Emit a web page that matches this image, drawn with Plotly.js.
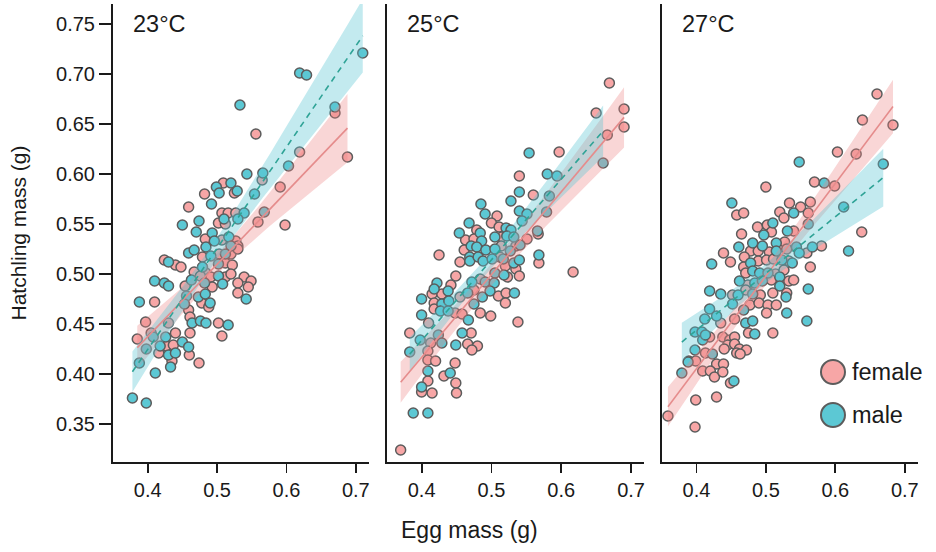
<!DOCTYPE html>
<html>
<head>
<meta charset="utf-8">
<script src="https://cdn.plot.ly/plotly-3.0.1.min.js"></script>
<style>html,body{margin:0;padding:0;background:#fff}</style>
</head>
<body>
<div id="chart" style="width:936px;height:552px"></div>
<script>
// ---------- data (egg mass g, hatchling mass g) ----------
const panelLabels = ['23°C', '25°C', '27°C'];
const sexLabels = ['female', 'male'];
const xTickVals = [0.4, 0.5, 0.6, 0.7];
const yTickVals = [0.35, 0.40, 0.45, 0.50, 0.55, 0.60, 0.65, 0.70, 0.75];
const xAxisTitle = 'Egg mass (g)';
const yAxisTitle = 'Hatchling mass (g)';

const female23 = [
 [0.556,0.640],[0.619,0.622],[0.688,0.617],[0.670,0.661],[0.591,0.587],[0.565,0.594],[0.598,0.549],[0.509,0.591],[0.525,0.581],[0.482,0.580],
 [0.459,0.567],[0.507,0.561],[0.516,0.561],[0.527,0.561],[0.502,0.551],[0.512,0.550],[0.559,0.552],[0.483,0.535],[0.507,0.534],[0.527,0.533],
 [0.530,0.528],[0.479,0.517],[0.503,0.520],[0.520,0.520],[0.530,0.525],[0.424,0.514],[0.440,0.509],[0.448,0.507],[0.467,0.502],[0.484,0.501],
 [0.512,0.511],[0.522,0.509],[0.512,0.497],[0.520,0.500],[0.491,0.497],[0.539,0.497],[0.549,0.493],[0.530,0.491],[0.545,0.487],[0.530,0.481],
 [0.454,0.488],[0.476,0.498],[0.493,0.487],[0.478,0.471],[0.488,0.467],[0.459,0.464],[0.461,0.457],[0.502,0.451],[0.507,0.438],[0.410,0.472],
 [0.397,0.452],[0.430,0.451],[0.405,0.441],[0.385,0.435],[0.440,0.441],[0.461,0.441],[0.460,0.419],[0.474,0.411],[0.427,0.428],[0.437,0.429],
 [0.416,0.421],[0.435,0.413]
];
const male23 = [
 [0.710,0.721],[0.619,0.701],[0.629,0.699],[0.533,0.669],[0.670,0.667],[0.603,0.608],[0.566,0.601],[0.543,0.600],[0.568,0.562],[0.554,0.580],
 [0.499,0.587],[0.520,0.591],[0.503,0.581],[0.529,0.583],[0.492,0.570],[0.474,0.553],[0.450,0.549],[0.470,0.542],[0.539,0.561],[0.510,0.555],
 [0.530,0.555],[0.493,0.541],[0.484,0.527],[0.496,0.533],[0.517,0.537],[0.520,0.528],[0.459,0.521],[0.467,0.524],[0.491,0.518],[0.512,0.520],
 [0.430,0.512],[0.479,0.507],[0.502,0.510],[0.502,0.498],[0.542,0.475],[0.410,0.493],[0.424,0.491],[0.430,0.488],[0.463,0.494],[0.482,0.491],
 [0.508,0.490],[0.473,0.477],[0.483,0.480],[0.490,0.471],[0.456,0.478],[0.453,0.470],[0.464,0.451],[0.476,0.453],[0.484,0.451],[0.516,0.449],
 [0.388,0.472],[0.408,0.437],[0.450,0.432],[0.459,0.427],[0.426,0.437],[0.418,0.428],[0.430,0.419],[0.440,0.421],[0.433,0.407],[0.398,0.425],
 [0.388,0.411],[0.411,0.401],[0.378,0.376],[0.398,0.371]
];
const female25 = [
 [0.669,0.691],[0.690,0.665],[0.690,0.647],[0.650,0.661],[0.666,0.639],[0.597,0.622],[0.540,0.598],[0.560,0.579],[0.508,0.558],[0.500,0.551],
 [0.511,0.547],[0.479,0.544],[0.463,0.534],[0.475,0.535],[0.515,0.537],[0.551,0.535],[0.567,0.540],[0.461,0.524],[0.514,0.528],[0.535,0.528],
 [0.425,0.519],[0.455,0.512],[0.512,0.517],[0.520,0.508],[0.535,0.505],[0.540,0.498],[0.568,0.511],[0.523,0.497],[0.484,0.495],[0.449,0.498],
 [0.442,0.489],[0.415,0.480],[0.429,0.480],[0.455,0.477],[0.475,0.484],[0.510,0.478],[0.521,0.481],[0.520,0.471],[0.418,0.471],[0.418,0.465],
 [0.448,0.461],[0.458,0.460],[0.484,0.461],[0.499,0.458],[0.410,0.451],[0.538,0.452],[0.383,0.441],[0.413,0.431],[0.471,0.441],[0.466,0.430],
 [0.480,0.428],[0.472,0.424],[0.409,0.423],[0.409,0.414],[0.420,0.413],[0.448,0.411],[0.432,0.398],[0.449,0.391],[0.409,0.393],[0.400,0.382],
 [0.415,0.381],[0.450,0.381],[0.617,0.502],[0.370,0.324]
];
const male25 = [
 [0.660,0.611],[0.554,0.621],[0.580,0.600],[0.594,0.598],[0.540,0.582],[0.528,0.573],[0.583,0.578],[0.485,0.570],[0.491,0.560],[0.540,0.563],
 [0.551,0.560],[0.579,0.562],[0.468,0.551],[0.521,0.546],[0.528,0.544],[0.544,0.553],[0.454,0.541],[0.484,0.541],[0.566,0.543],[0.486,0.533],
 [0.505,0.537],[0.522,0.538],[0.532,0.537],[0.541,0.529],[0.471,0.528],[0.479,0.527],[0.492,0.524],[0.505,0.525],[0.527,0.523],[0.469,0.517],
 [0.469,0.513],[0.481,0.517],[0.488,0.513],[0.501,0.515],[0.517,0.515],[0.532,0.511],[0.540,0.514],[0.568,0.519],[0.505,0.501],[0.518,0.499],
 [0.491,0.492],[0.504,0.491],[0.472,0.492],[0.422,0.491],[0.418,0.485],[0.438,0.483],[0.466,0.481],[0.487,0.477],[0.498,0.483],[0.533,0.481],
 [0.400,0.475],[0.429,0.470],[0.439,0.473],[0.427,0.463],[0.438,0.463],[0.475,0.470],[0.467,0.454],[0.400,0.459],[0.398,0.434],[0.424,0.439],
 [0.429,0.431],[0.458,0.441],[0.449,0.429],[0.383,0.422],[0.409,0.403],[0.441,0.401],[0.400,0.387],[0.388,0.361],[0.409,0.361]
];
const female27 = [
 [0.660,0.680],[0.639,0.654],[0.683,0.649],[0.603,0.622],[0.630,0.620],[0.500,0.587],[0.570,0.592],[0.599,0.588],[0.458,0.559],[0.468,0.561],
 [0.534,0.571],[0.520,0.562],[0.526,0.556],[0.550,0.567],[0.564,0.572],[0.561,0.561],[0.488,0.547],[0.502,0.549],[0.508,0.542],[0.465,0.540],
 [0.638,0.542],[0.540,0.543],[0.580,0.528],[0.559,0.521],[0.527,0.532],[0.478,0.523],[0.489,0.523],[0.505,0.522],[0.530,0.525],[0.439,0.521],
 [0.449,0.512],[0.469,0.517],[0.468,0.507],[0.489,0.513],[0.501,0.514],[0.511,0.515],[0.533,0.513],[0.564,0.507],[0.471,0.501],[0.514,0.500],
 [0.526,0.504],[0.533,0.493],[0.540,0.494],[0.474,0.489],[0.508,0.494],[0.530,0.481],[0.452,0.479],[0.471,0.484],[0.492,0.479],[0.510,0.481],
 [0.477,0.469],[0.490,0.471],[0.503,0.469],[0.515,0.469],[0.501,0.461],[0.435,0.451],[0.455,0.455],[0.475,0.441],[0.510,0.441],[0.419,0.437],
 [0.413,0.421],[0.438,0.437],[0.448,0.434],[0.455,0.437],[0.445,0.429],[0.455,0.430],[0.440,0.425],[0.462,0.425],[0.472,0.424],[0.458,0.421],
 [0.463,0.420],[0.429,0.410],[0.439,0.410],[0.409,0.403],[0.420,0.403],[0.426,0.397],[0.438,0.402],[0.389,0.413],[0.399,0.413],[0.449,0.391],
 [0.399,0.374],[0.429,0.377],[0.359,0.358],[0.398,0.347]
];
const male27 = [
 [0.669,0.610],[0.548,0.612],[0.584,0.591],[0.612,0.567],[0.451,0.571],[0.540,0.561],[0.561,0.550],[0.510,0.551],[0.497,0.539],[0.531,0.543],
 [0.567,0.527],[0.619,0.523],[0.481,0.531],[0.495,0.528],[0.515,0.531],[0.461,0.527],[0.515,0.523],[0.544,0.527],[0.548,0.521],[0.422,0.510],
 [0.478,0.511],[0.523,0.514],[0.538,0.511],[0.481,0.503],[0.491,0.501],[0.503,0.501],[0.520,0.497],[0.462,0.493],[0.484,0.491],[0.495,0.493],
 [0.520,0.488],[0.561,0.485],[0.419,0.483],[0.435,0.480],[0.460,0.479],[0.481,0.480],[0.529,0.477],[0.530,0.461],[0.468,0.464],[0.452,0.470],
 [0.419,0.465],[0.559,0.453],[0.412,0.455],[0.429,0.458],[0.471,0.451],[0.481,0.453],[0.484,0.440],[0.398,0.442],[0.408,0.442],[0.409,0.434],
 [0.398,0.424],[0.423,0.420],[0.379,0.401],[0.454,0.393],[0.388,0.412],[0.413,0.439]
];

const panels = [
  {label: panelLabels[0], female: female23, male: male23},
  {label: panelLabels[1], female: female25, male: male25},
  {label: panelLabels[2], female: female27, male: male27}
];

// ---------- styles ----------
const FONT = 'Liberation Sans, Arial, Helvetica, sans-serif';
const INK = '#1a1a1a';
const sexStyle = {
  female: {fill: '#F7A6A6', band: 'rgba(238,130,130,0.33)', line: '#E58C8C', dash: 'solid'},
  male:   {fill: '#5CC8D4', band: 'rgba(88,196,212,0.36)', line: '#2FA396', dash: '6px,5px'}
};
const EDGE = '#5c5c5c';

// ordinary least squares with 95% confidence band (as seaborn regplot)
function regression(pts) {
  const n = pts.length;
  const xs = pts.map(p => p[0]), ys = pts.map(p => p[1]);
  const mx = xs.reduce((a, b) => a + b, 0) / n;
  const my = ys.reduce((a, b) => a + b, 0) / n;
  let sxx = 0, sxy = 0;
  for (let i = 0; i < n; i++) { sxx += (xs[i] - mx) ** 2; sxy += (xs[i] - mx) * (ys[i] - my); }
  const b = sxy / sxx, a = my - b * mx;
  let sse = 0;
  for (let i = 0; i < n; i++) sse += (ys[i] - a - b * xs[i]) ** 2;
  const s = Math.sqrt(sse / (n - 2));
  const t = 1.99;
  const xmin = Math.min(...xs), xmax = Math.max(...xs);
  const gx = [], gy = [], lo = [], hi = [];
  const steps = 60;
  for (let k = 0; k <= steps; k++) {
    const x = xmin + (xmax - xmin) * k / steps;
    const yh = a + b * x;
    const se = s * Math.sqrt(1 / n + (x - mx) ** 2 / sxx);
    gx.push(x); gy.push(yh); lo.push(yh - t * se); hi.push(yh + t * se);
  }
  return {gx, gy, lo, hi};
}

const traces = [];
const axisIds = [['x', 'y'], ['x2', 'y2'], ['x3', 'y3']];
panels.forEach((p, i) => {
  const [xa, ya] = axisIds[i];
  sexLabels.forEach(sex => {
    const pts = p[sex];
    traces.push({
      type: 'scatter', mode: 'markers', xaxis: xa, yaxis: ya,
      x: pts.map(q => q[0]), y: pts.map(q => q[1]),
      name: sex, showlegend: false, hoverinfo: 'x+y',
      marker: {size: 10, color: sexStyle[sex].fill, line: {color: EDGE, width: 1.5}}
    });
  });
  sexLabels.forEach(sex => {
    const r = regression(p[sex]);
    traces.push({
      type: 'scatter', mode: 'lines', xaxis: xa, yaxis: ya,
      x: r.gx.concat(r.gx.slice().reverse()),
      y: r.hi.concat(r.lo.slice().reverse()),
      fill: 'toself', fillcolor: sexStyle[sex].band,
      line: {width: 0}, hoverinfo: 'skip', showlegend: false
    });
  });
  sexLabels.forEach(sex => {
    const r = regression(p[sex]);
    traces.push({
      type: 'scatter', mode: 'lines', xaxis: xa, yaxis: ya,
      x: r.gx, y: r.gy,
      line: {color: sexStyle[sex].line, width: 1.6, dash: sexStyle[sex].dash},
      hoverinfo: 'skip', showlegend: false
    });
  });
});

const xBase = {
  range: [0.35, 0.719], tickvals: xTickVals, tickformat: '.1f',
  showline: true, linecolor: INK, linewidth: 2, ticks: 'outside', ticklen: 9, tickwidth: 1.8, tickcolor: INK,
  showgrid: false, zeroline: false, fixedrange: true,
  tickfont: {family: FONT, size: 20, color: INK}
};
const yBase = {
  range: [0.312, 0.770], showline: true, linecolor: INK, linewidth: 2,
  showgrid: false, zeroline: false, fixedrange: true
};

const layout = {
  width: 936, height: 552,
  margin: {l: 113, r: 18, t: 4, b: 90},
  paper_bgcolor: '#fff', plot_bgcolor: '#fff',
  font: {family: FONT, color: INK},
  showlegend: false,
  xaxis:  Object.assign({}, xBase, {domain: [0, 0.318], anchor: 'y'}),
  xaxis2: Object.assign({}, xBase, {domain: [0.340, 0.660], anchor: 'y2'}),
  xaxis3: Object.assign({}, xBase, {domain: [0.6816, 1], anchor: 'y3'}),
  yaxis: Object.assign({}, yBase, {
    anchor: 'x', tickvals: yTickVals, tickformat: '.2f',
    ticks: 'outside', ticklen: 12, tickwidth: 1.8, tickcolor: INK,
    tickfont: {family: FONT, size: 20, color: INK},
    title: {text: yAxisTitle, font: {family: FONT, size: 21, color: INK}, standoff: 24}
  }),
  yaxis2: Object.assign({}, yBase, {anchor: 'x2', matches: 'y', showticklabels: false, ticks: ''}),
  yaxis3: Object.assign({}, yBase, {anchor: 'x3', matches: 'y', showticklabels: false, ticks: ''}),
  annotations: [],
  shapes: []
};

panels.forEach((p, i) => {
  const xa = axisIds[i][0], ya = axisIds[i][1];
  layout.annotations.push({
    text: p.label, xref: xa + ' domain', yref: ya + ' domain', x: 0.072, y: 0.956,
    xanchor: 'left', yanchor: 'middle', showarrow: false,
    font: {family: FONT, size: 23.5, color: INK}
  });
});

// x axis title (figure-centred)
layout.annotations.push({
  text: xAxisTitle, xref: 'paper', yref: 'paper', x: 0.443, y: -0.148,
  xanchor: 'center', yanchor: 'middle', showarrow: false,
  font: {family: FONT, size: 23, color: INK}
});

// legend (inside the 27°C panel)
const legendY = [0.1965, 0.1026];
sexLabels.forEach((sex, k) => {
  layout.shapes.push({
    type: 'circle', xref: 'paper', yref: 'paper', xsizemode: 'pixel', ysizemode: 'pixel',
    xanchor: 0.8944, yanchor: legendY[k], x0: -12, x1: 12, y0: -12, y1: 12,
    fillcolor: sexStyle[sex].fill, line: {color: EDGE, width: 2}
  });
  layout.annotations.push({
    text: sex, xref: 'paper', yref: 'paper', x: 0.9155, y: legendY[k],
    xanchor: 'left', yanchor: 'middle', showarrow: false,
    font: {family: FONT, size: 23.5, color: INK}
  });
});

Plotly.newPlot('chart', traces, layout, {displayModeBar: false, staticPlot: true});
</script>
</body>
</html>
